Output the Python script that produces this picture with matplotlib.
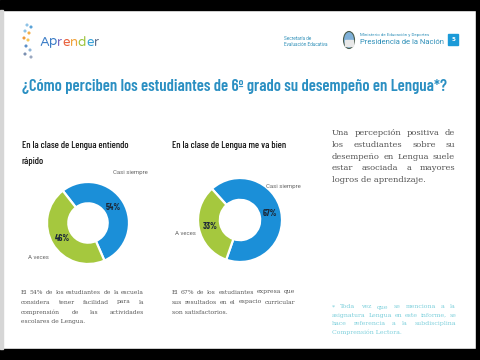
import matplotlib
matplotlib.use('Agg')
import matplotlib.pyplot as plt
from matplotlib.patches import Rectangle, Ellipse

# chart data
categories = ['Casi siempre', 'A veces']
chart_titles = ['En la clase de Lengua entiendo\nrápido', 'En la clase de Lengua me va bien']
share_rapido = [54, 46]
share_bien = [67, 33]
colors = ['#1b8fd8', '#a5c83e']

title = '¿Cómo perciben los estudiantes de 6º grado su desempeño en Lengua*?'
side_note = ['Una percepción positiva de', 'los estudiantes sobre su',
             'desempeño en Lengua suele', 'estar asociada a mayores',
             'logros de aprendizaje.']
note_rapido = ['El 54% de los estudiantes de la escuela', 'considera tener facilidad para la',
               'comprensión de las actividades', 'escolares de Lengua.']
note_bien = ['El 67% de los estudiantes expresa que', 'sus resultados en el espacio curricular',
             'son satisfactorios.']
footnote = ['* Toda vez que se menciona a la', 'asignatura Lengua en este informe, se',
            'hace referencia a la subdisciplina', 'Comprensión Lectora.']

W, H = 480, 360
COND = ['Barlow Condensed', 'Roboto Condensed', 'DejaVu Sans']
SLAB = ['DejaVu Serif']
SANS = ['Roboto', 'DejaVu Sans']

fig = plt.figure(figsize=(4.8, 3.6), dpi=100)
bg = fig.add_axes([0, 0, 1, 1])
bg.set_xlim(0, W)
bg.set_ylim(H, 0)
bg.axis('off')
renderer = fig.canvas.get_renderer()

# slide frame
bg.add_patch(Rectangle((0, 0), W, 10, color='black'))
bg.add_patch(Rectangle((0, 349), W, 11, color='black'))
bg.add_patch(Rectangle((476, 0), 4, H, color='black'))
bg.add_patch(Rectangle((0, 10), 3, 339, color='#d6d6d6'))


def text_width(s, size, family, weight='normal'):
    t = bg.text(0, 0, s, fontsize=size, family=family, fontweight=weight)
    w = t.get_window_extent(renderer).width
    t.remove()
    return w


def fit_width(t, width):
    for _ in range(3):
        bb = t.get_window_extent(renderer)
        t.set_fontsize(t.get_fontsize() * width / bb.width)
    return t


def justify(lines, x0, x1, y0, step, color, family, fill=0.96):
    # font size so that the longest line nearly fills the column
    size = 6.0
    for _ in range(4):
        longest = max(text_width(l, size, family) for l in lines[:-1])
        size *= fill * (x1 - x0) / longest
    for i, line in enumerate(lines):
        y = y0 + i * step
        if i == len(lines) - 1:
            bg.text(x0, y, line, fontsize=size, color=color, family=family, va='center', ha='left')
            continue
        words = line.split()
        texts = [bg.text(0, y, w, fontsize=size, color=color, family=family,
                         va='center', ha='left') for w in words]
        widths = [t.get_window_extent(renderer).width for t in texts]
        gap = (x1 - x0 - sum(widths)) / (len(words) - 1)
        x = x0
        for t, w in zip(texts, widths):
            t.set_x(x)
            x += w + gap


# header: logo
logo_letters = list('Aprender')
logo_colors = ['#3a7cc6', '#3a7cc6', '#7a68c0', '#e9603b', '#f0a23a', '#9cc43c', '#35a0d8', '#5b6d8c']
logo_font = ['Varela Round', 'Nunito', 'DejaVu Sans']
logo_size = 11.5 * 60 / text_width('Aprender', 11.5, logo_font)
x = 39
for ch, col in zip(logo_letters, logo_colors):
    t = bg.text(x, 42, ch, fontsize=logo_size, color=col, family=logo_font, va='center', ha='left')
    x += t.get_window_extent(renderer).width
logo_dots_x = [27, 31, 25, 29, 24, 28, 26, 30, 25, 31]
logo_dots_y = [25, 27, 31, 33, 38, 40, 46, 50, 54, 57]
logo_dots_c = ['#8fc3e6', '#5aa3d8', '#8fc3e6', '#f4b04a', '#f09a3a', '#f4c65a', '#5b8fc8', '#8fb4d8', '#7a8fb0', '#9aa8c0']
bg.scatter(logo_dots_x, logo_dots_y, s=5, c=logo_dots_c, marker='o', linewidths=0)

# header: institutions
bg.text(284, 38, 'Secretaría de', fontsize=3.3, color='#2e8fb8', family=SANS, va='center')
bg.text(284, 45, 'Evaluación Educativa', fontsize=3.3, color='#2e8fb8', family=SANS, va='center')
bg.add_patch(Ellipse((349, 40), 11, 17, facecolor='#7fb0d8', edgecolor='#4a5a4a', lw=0.8))
bg.add_patch(Rectangle((345, 40), 8, 6, color='#e8e8e8'))
bg.text(360, 35, 'Ministerio de Educación y Deportes', fontsize=3.2, color='#2e8fb8', family=SANS, va='center')
fit_width(bg.text(360, 42.5, 'Presidencia de la Nación', fontsize=6, color='#2e8fb8',
                  family=SANS, va='center'), 84)
bg.add_patch(Rectangle((448, 34), 10, 11, color='#1b9ad8'))
bg.text(453, 39.5, '5', fontsize=4, color='white', ha='center', va='center', fontweight='bold')

# title
fit_width(bg.text(22, 87, title, fontsize=14, color='#2a8fc2', family=COND, fontweight='semibold',
                  va='center', ha='left'), 425)

# chart subtitles
bg.text(22, 153, chart_titles[0], fontsize=7.2, color='#111111', family=COND, fontweight='medium',
        va='center', ha='left', linespacing=2.0)
bg.text(172, 145, chart_titles[1], fontsize=7.2, color='#111111', family=COND, fontweight='medium',
        va='center', ha='left')


def donut(cx, cy, r, values, start, label_pos):
    ax = fig.add_axes([(cx - 1.25 * r) / W, 1 - (cy + 1.25 * r) / H, 2.5 * r / W, 2.5 * r / H])
    wedges, _, autotexts = ax.pie(values, colors=colors, startangle=start, counterclock=False,
                                  autopct='%d%%', pctdistance=0.73,
                                  wedgeprops=dict(width=0.52, edgecolor='white', linewidth=1.6))
    for t in autotexts:
        t.set_family(COND)
        t.set_fontweight('bold')
        t.set_fontsize(6.5)
        t.set_color('#1c2838')
    for name, (lx, ly, ha) in zip(categories, label_pos):
        ax.text(lx, ly, name, fontsize=4.3, color='#666666', family=SANS, ha=ha, va='center')
    return ax


donut(88, 223, 41, share_rapido, 128, [(0.62, 1.22, 'left'), (-0.95, -0.83, 'right')])
donut(240, 220, 42, share_bien, 132, [(0.62, 0.8, 'left'), (-1.05, -0.31, 'right')])

# paragraphs
justify(side_note, 332, 455, 133, 11.8, '#555555', SLAB)
justify(note_rapido, 21, 144, 292, 10, '#555555', SLAB)
justify(note_bien, 172, 295, 292, 10, '#555555', SLAB, fill=0.98)
justify(footnote, 332, 456, 307, 8.3, '#7fd0dc', SLAB)

fig.savefig('out.png', dpi=100)
